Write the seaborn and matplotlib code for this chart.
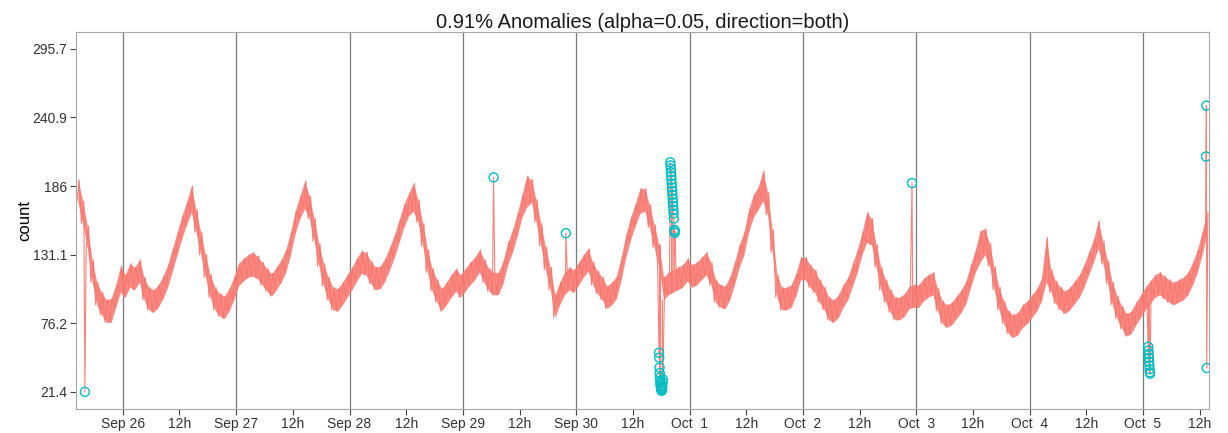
import matplotlib
matplotlib.use("Agg")
import matplotlib.pyplot as plt
import matplotlib.dates as mdates
import matplotlib.ticker as mticker
import seaborn as sns
import pandas as pd
import numpy as np

# bottom / top of the noisy count trace, one value per hour,
# starting 1980-09-25 14:00
count_lo = [
    173, 156, 136, 109, 91, 83, 77, 77, 89, 101, 97, 105, 103, 109, 95, 87, 85, 89, 96, 105, 118, 131, 144, 155,
    165, 149, 131, 113, 97, 87, 82, 80, 86, 95, 106, 110, 113, 114, 112, 107, 102, 98, 103, 109, 117, 131, 148, 160,
    168, 160, 142, 122, 106, 95, 87, 86, 91, 97, 103, 110, 116, 115, 108, 103, 104, 110, 119, 129, 141, 153, 162, 166,
    157, 138, 117, 102, 93, 86, 91, 97, 102, 97, 102, 107, 111, 117, 109, 102, 99, 99, 108, 123, 133, 146, 161, 169,
    173, 157, 138, 119, 103, 81, 91, 99, 103, 101, 107, 113, 118, 107, 100, 95, 88, 91, 96, 111, 129, 143, 154, 164,
    166, 153, 137, 121, 95, 99, 101, 103, 105, 110, 105, 107, 111, 115, 107, 93, 89, 88, 95, 107, 121, 131, 149, 161,
    167, 174, 163, 133, 97, 87, 87, 89, 98, 111, 111, 105, 101, 93, 87, 79, 77, 81, 89, 95, 106, 117, 131, 141,
    139, 121, 103, 93, 85, 79, 79, 82, 88, 89, 89, 94, 97, 99, 86, 76, 73, 75, 80, 85, 92, 105, 117, 125,
    131, 122, 103, 87, 76, 68, 65, 67, 73, 76, 81, 86, 94, 109, 101, 92, 87, 84, 87, 92, 97, 105, 115, 125,
    136, 124, 108, 91, 80, 72, 66, 68, 75, 81, 87, 92, 97, 99, 96, 93, 91, 93, 95, 99, 107, 117, 131, 147,
]
count_hi = [
    191, 174, 154, 127, 109, 101, 95, 96, 107, 122, 115, 124, 121, 127, 113, 105, 103, 107, 114, 123, 136, 149, 162, 173,
    186, 167, 149, 131, 115, 105, 100, 98, 104, 113, 124, 128, 131, 133, 130, 125, 120, 116, 121, 127, 135, 149, 166, 178,
    190, 178, 160, 140, 124, 113, 105, 104, 109, 115, 121, 128, 134, 133, 126, 121, 122, 128, 137, 147, 159, 171, 180, 188,
    175, 156, 135, 120, 111, 104, 109, 115, 120, 115, 120, 125, 129, 135, 127, 120, 117, 117, 126, 141, 151, 164, 179, 194,
    191, 175, 156, 137, 121, 99, 109, 117, 121, 119, 125, 131, 136, 125, 118, 113, 106, 109, 114, 129, 147, 161, 172, 184,
    184, 171, 155, 139, 113, 117, 119, 121, 123, 128, 123, 125, 129, 133, 125, 111, 107, 106, 113, 125, 139, 149, 167, 179,
    185, 198, 181, 151, 115, 105, 105, 107, 116, 129, 129, 123, 119, 111, 105, 97, 95, 99, 107, 113, 124, 135, 149, 165,
    160, 139, 121, 111, 103, 97, 97, 100, 106, 107, 107, 112, 115, 117, 104, 94, 91, 93, 98, 103, 110, 123, 135, 150,
    152, 140, 121, 105, 94, 86, 83, 85, 91, 94, 99, 104, 112, 145, 119, 110, 105, 102, 105, 110, 115, 123, 133, 143,
    158, 142, 126, 109, 98, 90, 84, 86, 93, 99, 105, 110, 115, 117, 114, 111, 109, 111, 113, 117, 125, 135, 149, 165,
]

# anomalies flagged by the detector
anom_time = [
    "1980-09-25 15:58", "1980-09-29 06:30", "1980-09-29 21:48",
    "1980-09-30 17:32", "1980-09-30 17:35", "1980-09-30 17:38", "1980-09-30 17:41", "1980-09-30 17:44",
    "1980-09-30 17:47", "1980-09-30 17:50", "1980-09-30 17:53", "1980-09-30 17:56", "1980-09-30 17:59",
    "1980-09-30 18:02", "1980-09-30 18:05", "1980-09-30 18:08", "1980-09-30 18:11", "1980-09-30 18:14",
    "1980-09-30 18:17", "1980-09-30 18:20",
    "1980-09-30 19:55", "1980-09-30 19:58", "1980-09-30 20:01", "1980-09-30 20:04", "1980-09-30 20:07",
    "1980-09-30 20:10", "1980-09-30 20:13", "1980-09-30 20:16", "1980-09-30 20:19", "1980-09-30 20:22",
    "1980-09-30 20:25", "1980-09-30 20:28", "1980-09-30 20:31", "1980-09-30 20:34", "1980-09-30 20:37",
    "1980-09-30 20:40", "1980-09-30 20:45", "1980-09-30 20:50", "1980-09-30 20:55",
    "1980-10-02 23:06",
    "1980-10-05 01:06", "1980-10-05 01:09", "1980-10-05 01:12", "1980-10-05 01:15", "1980-10-05 01:18",
    "1980-10-05 01:21", "1980-10-05 01:24", "1980-10-05 01:27", "1980-10-05 01:30",
    "1980-10-05 13:20", "1980-10-05 13:25", "1980-10-05 13:30",
]
anom_count = [
    21.4, 192.9, 148.3,
    52.7, 48.8, 40.8, 36.5, 33.0, 30.2, 28.0, 26.2, 24.8, 23.6, 22.8, 22.2, 23.0, 24.5, 26.5, 29.0, 31.5,
    205.0, 202.5, 200.0, 197.0, 194.0, 191.0, 188.0, 185.0, 182.0, 179.0, 176.0, 173.0, 170.0, 167.0, 164.0,
    160.0, 151.0, 148.5, 150.0,
    188.4,
    57.5, 54.5, 51.5, 48.5, 45.5, 42.5, 39.5, 37.0, 36.0,
    209.6, 250.3, 40.5,
]

y_ticks = [21.4, 76.2, 131.1, 186, 240.9, 295.7]
y_tick_labels = ["21.4", "76.2", "131.1", "186", "240.9", "295.7"]
day_labels = ["Sep 26", "Sep 27", "Sep 28", "Sep 29", "Sep 30",
              "Oct  1", "Oct  2", "Oct  3", "Oct  4", "Oct  5"]

red = "#F8766D"
teal = "#00BFC4"

start = pd.Timestamp("1980-09-25 14:00")
hours = np.arange(len(count_lo))
t_mid = start + pd.to_timedelta(hours + 0.5, unit="h")
t_lo = start + pd.to_timedelta(hours + 0.25, unit="h")
t_hi = start + pd.to_timedelta(hours + 0.75, unit="h")

anoms = pd.DataFrame({"timestamp": pd.to_datetime(anom_time), "count": anom_count})
series = pd.concat([
    pd.DataFrame({"timestamp": t_lo, "count": count_lo}),
    pd.DataFrame({"timestamp": t_hi, "count": count_hi}),
    anoms,
]).sort_values("timestamp").reset_index(drop=True)

sns.set_theme(style="white")
plt.rcParams["font.family"] = ["Liberation Sans", "DejaVu Sans"]

fig, ax = plt.subplots(figsize=(12.28, 4.33), dpi=100)
fig.subplots_adjust(left=0.0616, right=0.9845, bottom=0.0554, top=0.9268)

# the dense minute trace shows as a solid band, with the zigzag on top of it
ax.fill_between(t_mid, count_lo, count_hi, color=red, alpha=0.85, linewidth=0)
sns.lineplot(data=series, x="timestamp", y="count", color=red,
             linewidth=0.8, alpha=0.9, estimator=None, sort=True, ax=ax)
sns.scatterplot(data=anoms, x="timestamp", y="count", marker="o", s=42,
                linewidth=1.0, ax=ax, zorder=3)
pts = ax.collections[-1]
pts.set_facecolor("none")
pts.set_edgecolor(teal)

# axes
ax.set_xlim(pd.Timestamp("1980-09-25 14:01"), pd.Timestamp("1980-10-05 13:58"))
ax.set_ylim(7.7, 309.4)
ax.set_yticks(y_ticks)
ax.set_yticklabels(y_tick_labels)

days = pd.date_range("1980-09-26", periods=len(day_labels), freq="D")
noons = days + pd.Timedelta(hours=12)
ax.xaxis.set_major_locator(mticker.FixedLocator(mdates.date2num(days)))
ax.xaxis.set_major_formatter(mticker.FixedFormatter(day_labels))
ax.xaxis.set_minor_locator(mticker.FixedLocator(mdates.date2num(noons)))
ax.xaxis.set_minor_formatter(mticker.FixedFormatter(["12h"] * len(noons)))

ax.tick_params(axis="both", which="both", direction="out", length=4, width=0.8,
               color="#444444", labelcolor="#333333", labelsize=10, pad=2,
               bottom=True, left=True)
ax.grid(False)
ax.grid(axis="x", which="major", color="#7a7a7a", linewidth=0.9)
for s in ax.spines.values():
    s.set_color("#a8a8a8")
    s.set_linewidth(0.8)

ax.set_xlabel("")
ax.set_ylabel("count", fontsize=12, color="black")
ax.yaxis.set_label_coords(-0.038, 0.5)
ax.set_title("0.91% Anomalies (alpha=0.05, direction=both)", fontsize=14.5,
             color="#1a1a1a", pad=3)

plt.savefig("out.png", dpi=100)
